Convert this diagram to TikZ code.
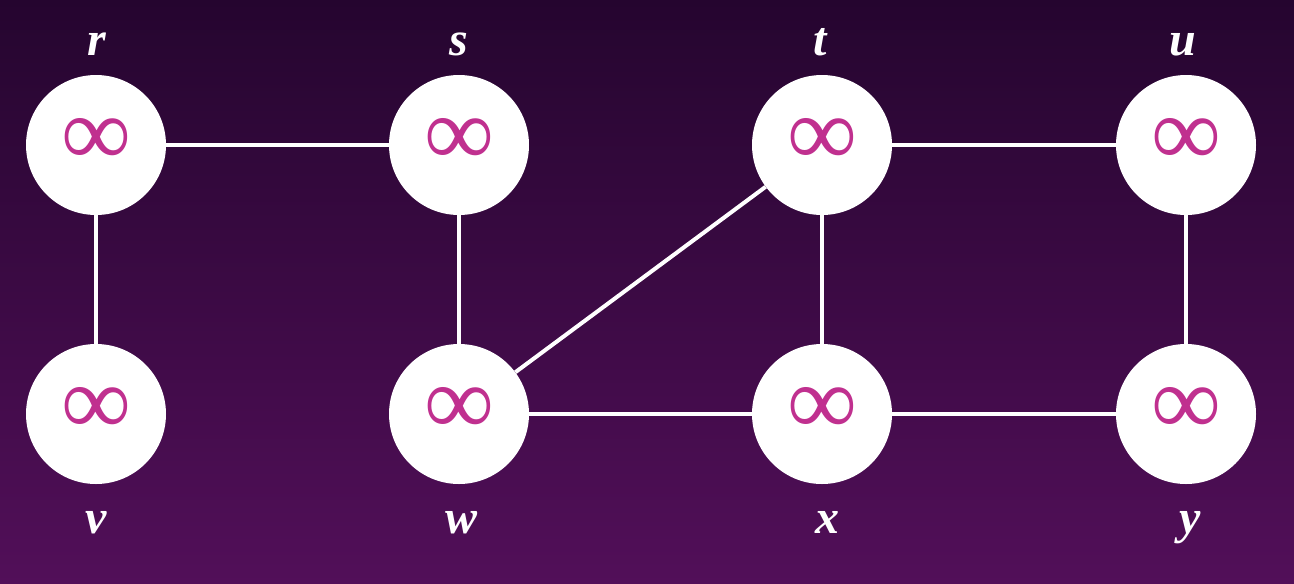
\documentclass[tikz,border=0pt]{standalone}
\usepackage{fontspec}
\setmainfont{Liberation Serif}
\definecolor{bgtop}{HTML}{25052F}
\definecolor{bgbot}{HTML}{520F59}
\definecolor{infcol}{HTML}{C0308F}
\begin{document}
\begin{tikzpicture}[x=1pt,y=-1pt,
  vert/.style={circle,fill=white,minimum size=140pt,inner sep=0pt,text=infcol,font=\fontsize{98}{98}\selectfont},
  lbl/.style={text=white,anchor=base,inner sep=0pt,font=\fontsize{48}{48}\selectfont\bfseries\itshape},
  edge/.style={white,line width=4pt}]
\shade[top color=bgtop,bottom color=bgbot] (0,0) rectangle (1294,584);
\useasboundingbox (0,0) rectangle (1294,584);
\node[vert] (r) at (96,145) {\raisebox{6pt}{∞}};
\node[vert] (s) at (459,145) {\raisebox{6pt}{∞}};
\node[vert] (t) at (822,145) {\raisebox{6pt}{∞}};
\node[vert] (u) at (1186,145) {\raisebox{6pt}{∞}};
\node[vert] (v) at (96,414) {\raisebox{6pt}{∞}};
\node[vert] (w) at (459,414) {\raisebox{6pt}{∞}};
\node[vert] (x) at (822,414) {\raisebox{6pt}{∞}};
\node[vert] (y) at (1186,414) {\raisebox{6pt}{∞}};
\node[lbl] (lr) at (97,55) {r};
\node[lbl] (ls) at (459,55) {s};
\node[lbl] (lt) at (820,55) {t};
\node[lbl] (lu) at (1183,55) {u};
\node[lbl] (lv) at (96,533) {v};
\node[lbl] (lw) at (462,533) {w};
\node[lbl] (lx) at (827,533) {x};
\node[lbl] (ly) at (1190,533) {y};
\draw[edge] (r) -- (s);
\draw[edge] (r) -- (v);
\draw[edge] (s) -- (w);
\draw[edge] (w) -- (t);
\draw[edge] (t) -- (u);
\draw[edge] (t) -- (x);
\draw[edge] (u) -- (y);
\draw[edge] (w) -- (x);
\draw[edge] (x) -- (y);
\end{tikzpicture}
\end{document}
